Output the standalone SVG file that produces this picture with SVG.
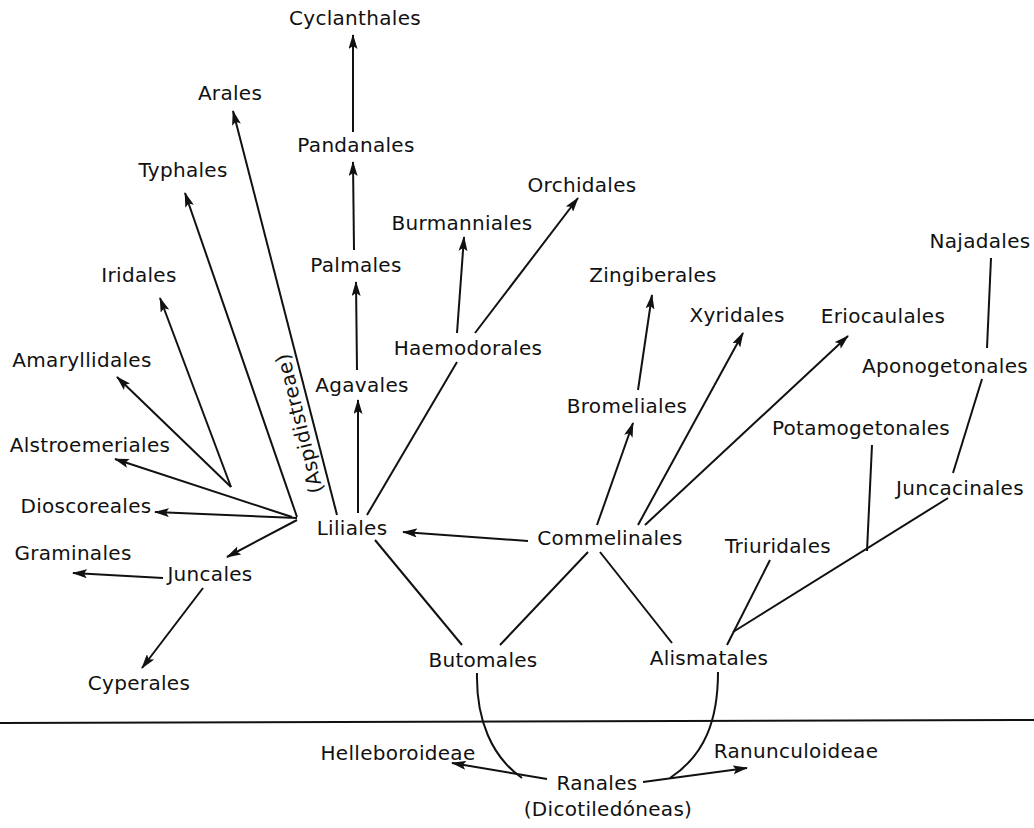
<svg xmlns="http://www.w3.org/2000/svg" width="1034" height="828" viewBox="0 0 1034 828">
<defs>
<marker id="ah" viewBox="0 0 15 9" refX="14" refY="4.5" markerWidth="15" markerHeight="9" markerUnits="userSpaceOnUse" orient="auto">
<path d="M0,0 L15,4.5 L0,9 L3,4.5 z" fill="#111"/>
</marker>
<style>
text{font-family:"DejaVu Sans","Liberation Sans",sans-serif;font-size:20px;fill:#111;text-anchor:middle;letter-spacing:0.3px}
.c line,.c path{stroke:#111;stroke-width:2;fill:none}
.a{marker-end:url(#ah)}
</style>
</defs>
<rect width="1034" height="828" fill="#fff"/>
<g class="c" id="connectors">
<line class="a" x1="353" y1="132" x2="353" y2="35"/>
<line class="a" x1="354" y1="250" x2="353" y2="162"/>
<line class="a" x1="357" y1="370" x2="356" y2="282"/>
<line class="a" x1="358" y1="513" x2="358" y2="400"/>
<line class="a" x1="337" y1="515" x2="233" y2="111"/>
<line class="a" x1="297" y1="517" x2="185" y2="193"/>
<line class="a" x1="231" y1="487" x2="160" y2="298"/>
<line class="a" x1="231" y1="487" x2="117" y2="377"/>
<line class="a" x1="292" y1="517" x2="115" y2="459"/>
<line class="a" x1="297" y1="518" x2="155" y2="512"/>
<line class="a" x1="297" y1="520" x2="227" y2="557"/>
<line class="a" x1="163" y1="578" x2="73" y2="573"/>
<line class="a" x1="203" y1="588" x2="142" y2="668"/>
<line x1="367" y1="515" x2="457" y2="362"/>
<line class="a" x1="457" y1="333" x2="464" y2="237"/>
<line class="a" x1="475" y1="333" x2="578" y2="198"/>
<line class="a" x1="528" y1="541" x2="403" y2="532"/>
<line x1="375" y1="540" x2="462" y2="645"/>
<line x1="588" y1="552" x2="500" y2="645"/>
<line x1="600" y1="552" x2="672" y2="643"/>
<line class="a" x1="597" y1="525" x2="633" y2="423"/>
<line class="a" x1="638" y1="390" x2="652" y2="295"/>
<line class="a" x1="638" y1="525" x2="743" y2="333"/>
<line class="a" x1="645" y1="525" x2="848" y2="336"/>
<line x1="991" y1="258" x2="987" y2="348"/>
<line x1="982" y1="379" x2="953" y2="473"/>
<line x1="948" y1="498" x2="733" y2="632"/>
<line x1="872" y1="445" x2="867" y2="551"/>
<line x1="770" y1="560" x2="727" y2="645"/>
<path d="M477,673 C476,720 492,757 522,778"/>
<path d="M718,672 C718,720 705,755 670,778"/>
<line class="a" x1="547" y1="779" x2="452" y2="763"/>
<line class="a" x1="643" y1="782" x2="747" y2="768"/>
<line x1="0" y1="723" x2="1034" y2="720" stroke-width="1.5"/>
</g>
<g id="n-cyclanthales"><text x="355" y="25">Cyclanthales</text></g>
<g id="n-arales"><text x="230" y="100">Arales</text></g>
<g id="n-pandanales"><text x="356" y="152">Pandanales</text></g>
<g id="n-typhales"><text x="183" y="177">Typhales</text></g>
<g id="n-orchidales"><text x="582" y="192">Orchidales</text></g>
<g id="n-burmanniales"><text x="462" y="230">Burmanniales</text></g>
<g id="n-palmales"><text x="356" y="272">Palmales</text></g>
<g id="n-iridales"><text x="139" y="282">Iridales</text></g>
<g id="n-zingiberales"><text x="653" y="282">Zingiberales</text></g>
<g id="n-najadales"><text x="980" y="248">Najadales</text></g>
<g id="n-xyridales"><text x="737" y="322">Xyridales</text></g>
<g id="n-eriocaulales"><text x="883" y="323">Eriocaulales</text></g>
<g id="n-haemodorales"><text x="468" y="355">Haemodorales</text></g>
<g id="n-amaryllidales"><text x="82" y="367">Amaryllidales</text></g>
<g id="n-aponogetonales"><text x="945" y="373">Aponogetonales</text></g>
<g id="n-agavales"><text x="362" y="392">Agavales</text></g>
<g id="n-bromeliales"><text x="627" y="413">Bromeliales</text></g>
<g id="n-potamogetonales"><text x="861" y="435">Potamogetonales</text></g>
<g id="n-alstroemeriales"><text x="90" y="452">Alstroemeriales</text></g>
<g id="n-aspidistreae"><text transform="translate(306,422) rotate(-104)">(Aspidistreae)</text></g>
<g id="n-juncacinales"><text x="960" y="495">Juncacinales</text></g>
<g id="n-dioscoreales"><text x="86" y="513">Dioscoreales</text></g>
<g id="n-liliales"><text x="352" y="535">Liliales</text></g>
<g id="n-commelinales"><text x="610" y="545">Commelinales</text></g>
<g id="n-triuridales"><text x="778" y="553">Triuridales</text></g>
<g id="n-graminales"><text x="73" y="560">Graminales</text></g>
<g id="n-juncales"><text x="210" y="581">Juncales</text></g>
<g id="n-butomales"><text x="483" y="667">Butomales</text></g>
<g id="n-alismatales"><text x="709" y="665">Alismatales</text></g>
<g id="n-cyperales"><text x="139" y="690">Cyperales</text></g>
<g id="n-helleboroideae"><text x="398" y="760">Helleboroideae</text></g>
<g id="n-ranunculoideae"><text x="796" y="758">Ranunculoideae</text></g>
<g id="n-ranales"><text x="597" y="790">Ranales</text><text x="608" y="816">(Dicotiledóneas)</text></g>
</svg>
